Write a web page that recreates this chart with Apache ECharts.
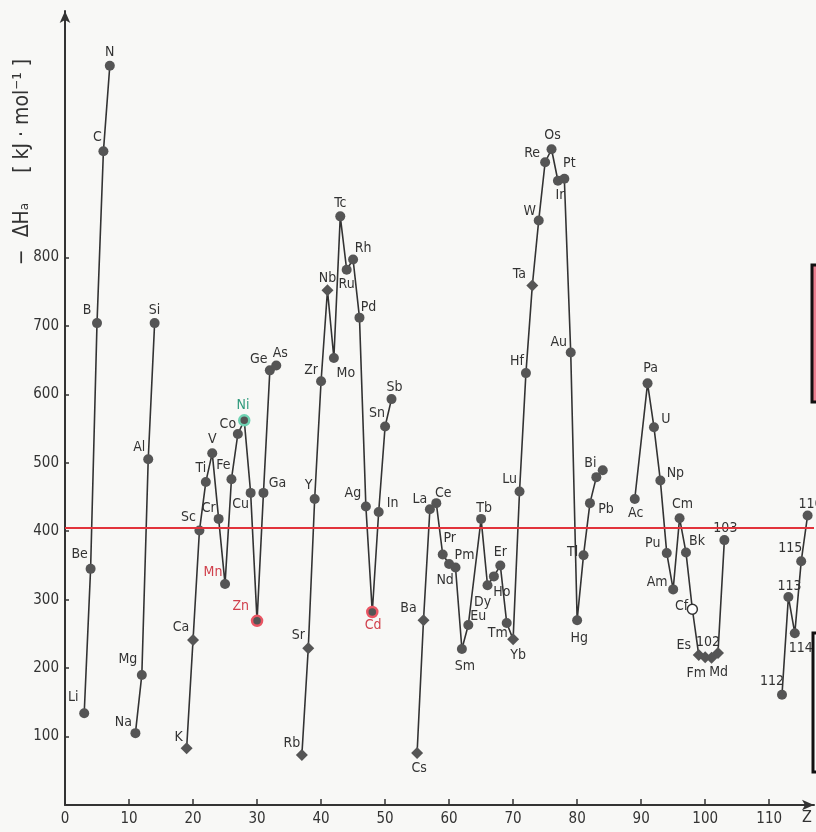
<!DOCTYPE html>
<html><head><meta charset="utf-8">
<script src="https://cdn.jsdelivr.net/npm/echarts@6/dist/echarts.min.js"></script>
<style>html,body{margin:0;padding:0;background:#f8f8f6}#c{width:816px;height:832px}</style>
</head><body><div id="c"></div>
<script>
// ---- data ----
const elements = ['Li','Be','B','C','N','Na','Mg','Al','Si','K','Ca','Sc','Ti','V','Cr','Mn','Fe','Co','Ni','Cu','Zn','Ga','Ge','As','Rb','Sr','Y','Zr','Nb','Mo','Tc','Ru','Rh','Pd','Ag','Cd','In','Sn','Sb','Cs','Ba','La','Ce','Pr','Nd','Pm','Sm','Eu','Tb','Dy','Ho','Er','Tm','Yb','Lu','Hf','Ta','W','Re','Os','Ir','Pt','Au','Hg','Tl','Pb','Bi','Po','Ac','Pa','U','Np','Pu','Am','Cm','Bk','Cf','Es','Fm','Md','102','103','112','113','114','115','116'];
const atomicNumbers = [3,4,5,6,7,11,12,13,14,19,20,21,22,23,24,25,26,27,28,29,30,31,32,33,37,38,39,40,41,42,43,44,45,46,47,48,49,50,51,55,56,57,58,59,60,61,62,63,65,66,67,68,69,70,71,72,73,74,75,76,77,78,79,80,81,82,83,84,89,91,92,93,94,95,96,97,98,99,100,101,102,103,112,113,114,115,116];
const enthalpy = [134,345,704,955,1080,105,190,505,704,83,241,401,472,514,418,323,476,542,562,456,269,456,635,642,73,229,447,619,752,653,860,782,797,712,436,282,428,553,593,76,270,432,441,366,352,347,228,263,418,321,334,350,266,242,458,631,759,854,939,958,912,915,661,270,365,441,479,489,447,616,552,474,368,315,419,369,286,219,216,215,222,387,161,304,251,356,423];
const xTickValues = [0,10,20,30,40,50,60,70,80,90,100,110];
const yTickValues = [100,200,300,400,500,600,700,800];
const referenceLevel = 405;

// ---- label placement / styling (not data) ----
const labelOffsets = {
 Li:[-11,-16],Be:[-11,-14],B:[-10,-13],C:[-6,-14],N:[0,-13],Na:[-12,-11],Mg:[-14,-16],Al:[-9,-12],Si:[0,-13],
 K:[-8,-11],Ca:[-12,-13],Sc:[-11,-13],Ti:[-5,-14],V:[0,-14],Cr:[-10,-11],Mn:[-12,-12],Fe:[-8,-14],Co:[-10,-10],
 Ni:[0,-14],Cu:[-10,11],Zn:[-15,-13],Ga:[14,-10],Ge:[-11,-11],As:[4,-12],
 Rb:[-10,-12],Sr:[-10,-13],Y:[-6,-14],Zr:[-10,-11],Nb:[0,-12],Mo:[12,15],Tc:[0,-13],Ru:[0,15],Rh:[10,-11],Pd:[9,-10],
 Ag:[-13,-13],Cd:[2,15],In:[14,-9],Sn:[-8,-13],Sb:[3,-12],
 Cs:[2,15],Ba:[-15,-12],La:[-10,-10],Ce:[7,-10],Pr:[7,-16],Nd:[-4,16],Pm:[9,-12],Sm:[3,17],Eu:[10,-9],Tb:[3,-11],
 Dy:[-5,17],Ho:[8,16],Er:[0,-13],Tm:[-9,10],Yb:[5,16],Lu:[-10,-12],Hf:[-9,-12],Ta:[-13,-11],W:[-9,-9],Re:[-13,-9],
 Os:[1,-14],Ir:[2,15],Pt:[5,-15],Au:[-12,-10],Hg:[2,18],Tl:[-11,-3],Pb:[16,6],Bi:[-6,-14],Po:[0,0],
 Ac:[1,14],Pa:[3,-15],U:[12,-8],Np:[15,-7],Pu:[-14,-10],Am:[-16,-7],Cm:[3,-14],Bk:[11,-11],Cf:[-10,-2],
 Es:[-15,-10],Fm:[-9,16],Md:[7,15],'102':[-10,-11],'103':[1,-12],
 '112':[-10,-13],'113':[1,-11],'114':[6,15],'115':[-11,-13],'116':[3,-11]
};
const diamondMarks = ['K','Ca','Rb','Sr','Cs','Ba','Nb','Ta','Yb','Es','Fm','Md','102'];
const labelColors = {Mn:'#d0404c', Zn:'#d0404c', Cd:'#d0404c', Ni:'#2f9a7c'};
const ringColors = {Zn:'#ea5563', Cd:'#ea5563', Ni:'#6fd3b3'};
const openMarks = ['Cf'];
const hiddenLabels = ['Po'];

const FONT = "'DejaVu Sans Condensed','Liberation Sans Narrow','DejaVu Sans',sans-serif";
const INK = '#333333';
const CIRCLE = 10, DIAMOND = 12;

// group into connected runs (a jump of more than 2 in Z breaks the line)
const groups = [];
let cur = null, prevZ = null;
elements.forEach((name, i) => {
  const z = atomicNumbers[i];
  if (cur === null || z - prevZ > 2) { cur = []; groups.push(cur); }
  prevZ = z;
  const isDiamond = diamondMarks.indexOf(name) >= 0;
  const half = (isDiamond ? DIAMOND : CIRCLE) / 2;
  const off = labelOffsets[name] || [0, -12];
  const item = {
    name: name,
    value: [z, enthalpy[i]],
    label: {
      show: hiddenLabels.indexOf(name) < 0,
      position: [half + off[0], half + off[1]],
      align: 'center', verticalAlign: 'middle',
      color: labelColors[name] || INK
    }
  };
  if (isDiamond) { item.symbol = 'diamond'; item.symbolSize = DIAMOND; }
  if (ringColors[name]) item.itemStyle = { color: '#555', borderColor: ringColors[name], borderWidth: 2.5 };
  if (openMarks.indexOf(name) >= 0) item.itemStyle = { color: '#ffffff', borderColor: INK, borderWidth: 1.5 };
  cur.push(item);
});

const series = groups.map((g, gi) => ({
  type: 'line',
  data: g,
  symbol: 'circle',
  symbolSize: CIRCLE,
  showAllSymbol: true,
  lineStyle: { color: INK, width: 1.6 },
  itemStyle: { color: '#555' },
  label: { show: true, formatter: '{b}', fontFamily: FONT, fontSize: 14, color: INK },
  labelLayout: { hideOverlap: false },
  animation: false,
  z: 3,
  markLine: gi === 0 ? {
    silent: true, symbol: 'none', animation: false,
    lineStyle: { color: '#e2333b', width: 2, type: 'solid' },
    label: { show: false },
    data: [{ yAxis: referenceLevel }]
  } : undefined
}));

const chart = echarts.init(document.getElementById('c'), null, { renderer: 'canvas' });
chart.setOption({
  backgroundColor: '#f8f8f6',
  animation: false,
  grid: { left: 65, top: 11, width: 749, height: 794 },
  xAxis: {
    type: 'value', min: 0, max: 117, interval: 10,
    axisLine: { show: true, symbol: ['none','arrow'], symbolSize: [8,12], lineStyle: { color: INK, width: 2 } },
    axisTick: { show: true, inside: true, length: 6, customValues: xTickValues.slice(1), lineStyle: { color: INK, width: 1.5 } },
    axisLabel: { customValues: xTickValues, fontFamily: FONT, fontSize: 15, color: INK, margin: 7 },
    splitLine: { show: false }
  },
  yAxis: {
    type: 'value', min: 0, max: 1160, interval: 100,
    axisLine: { show: true, symbol: ['none','arrow'], symbolSize: [8,12], lineStyle: { color: INK, width: 2 } },
    axisTick: { show: true, inside: true, length: 4, customValues: yTickValues, lineStyle: { color: INK, width: 1.5 } },
    axisLabel: { customValues: yTickValues, fontFamily: FONT, fontSize: 15, color: INK, margin: 6 },
    splitLine: { show: false }
  },
  graphic: [
    { type: 'text', x: 23, y: 162, rotation: Math.PI/2,
      style: { text: '−  ΔHₐ     [ kJ · mol⁻¹ ]', font: "21px " + FONT, fill: INK, textAlign: 'center', textVerticalAlign: 'middle' } },
    { type: 'text', x: 807, y: 818, style: { text: 'Z', font: "16px " + FONT, fill: INK, textAlign: 'center', textVerticalAlign: 'middle' } },
    { type: 'rect', shape: { x: 812, y: 265, width: 12, height: 137 }, style: { fill: '#ef7f91', stroke: '#111', lineWidth: 3 } },
    { type: 'rect', shape: { x: 813, y: 633, width: 12, height: 139 }, style: { fill: '#fafafa', stroke: '#111', lineWidth: 3 } }
  ],
  series: series
});
</script></body></html>
